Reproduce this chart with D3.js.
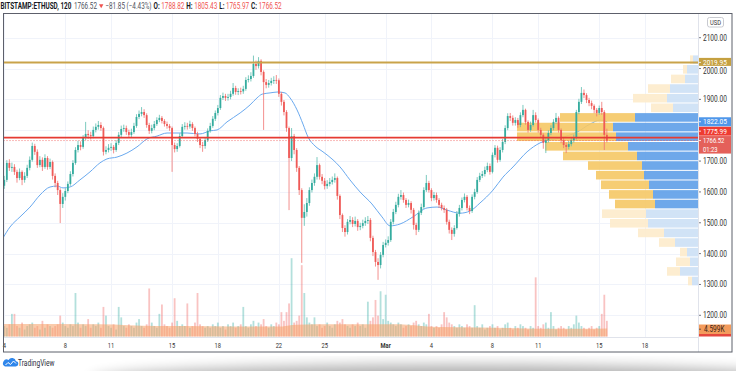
<!DOCTYPE html>
<html>
<head>
<meta charset="utf-8">
<script src="https://cdn.jsdelivr.net/npm/d3@7"></script>
<style>
  html, body { margin: 0; background: #fff; overflow: hidden; }
</style>
</head>
<body>
<script>
// ETHUSD, 4h candles (Feb 4 -> Mar 15)
const firstOpen = 1620;
const startDay = 4;        // day-of-February, Mar 1 = 29
const candleDays = 1 / 6;

const closes = [
  1639,1694,1678,1681,1665,1645,1665,1639,1652,1678,
  1704,1749,1730,1687,1704,1681,1710,1681,1697,1652,
  1629,1606,1561,1584,1603,1626,1658,1694,1736,1752,
  1746,1775,1788,1784,1781,1801,1811,1817,1807,1730,
  1736,1743,1746,1736,1759,1785,1804,1807,1794,1785,
  1794,1814,1843,1853,1859,1849,1817,1798,1807,1820,
  1833,1840,1830,1820,1814,1807,1752,1739,1749,1781,
  1811,1814,1812,1820,1807,1788,1772,1752,1749,1768,
  1798,1814,1837,1856,1872,1905,1911,1905,1908,1918,
  1937,1924,1927,1926,1934,1963,1966,1976,2015,2008,
  2025,1989,1956,1947,1953,1960,1963,1962,1918,1892,
  1859,1807,1710,1781,1736,1678,1606,1516,1535,1564,
  1606,1629,1649,1687,1649,1636,1619,1626,1632,1639,
  1645,1587,1525,1483,1470,1503,1509,1496,1506,1486,
  1490,1499,1506,1509,1451,1405,1373,1363,1396,1428,
  1435,1444,1503,1535,1558,1584,1590,1574,1558,1564,
  1542,1493,1477,1532,1551,1606,1629,1606,1580,1590,
  1574,1558,1548,1542,1503,1477,1464,1483,1529,1548,
  1574,1584,1548,1538,1584,1600,1639,1652,1658,1671,
  1684,1665,1720,1743,1704,1736,1762,1807,1846,1840,
  1824,1833,1817,1849,1866,1827,1801,1817,1849,1833,
  1801,1785,1759,1768,1791,1807,1827,1840,1801,1768,
  1752,1746,1755,1768,1775,1859,1892,1921,1914,1898,
  1888,1879,1866,1856,1872,1859,1785,1766.52
];
const highs = [
  1652,1703,1706,1695,1690,1672,1676,1670,1664,1688,
  1715,1760,1756,1738,1716,1712,1722,1716,1708,1702,
  1660,1636,1612,1596,1612,1634,1667,1703,1745,1766,
  1764,1784,1827,1800,1795,1812,1822,1830,1826,1812,
  1748,1755,1758,1752,1768,1794,1815,1818,1815,1802,
  1805,1824,1852,1864,1875,1868,1855,1824,1818,1830,
  1842,1850,1846,1836,1828,1820,1812,1760,1758,1790,
  1820,1826,1824,1831,1826,1812,1795,1778,1762,1776,
  1806,1824,1846,1864,1882,1914,1922,1918,1918,1928,
  1953,1944,1936,1938,1944,1972,1978,1988,2042,2026,
  2037,2030,1994,1966,1963,1970,1975,1979,1968,1924,
  1898,1865,1812,1807,1788,1742,1684,1612,1560,1580,
  1615,1640,1660,1713,1692,1658,1645,1638,1645,1650,
  1660,1650,1592,1530,1492,1512,1522,1518,1520,1512,
  1500,1510,1518,1522,1515,1458,1412,1385,1405,1438,
  1446,1456,1512,1545,1568,1594,1606,1598,1580,1575,
  1570,1548,1500,1540,1562,1615,1655,1636,1612,1600,
  1598,1580,1565,1556,1548,1510,1485,1492,1538,1558,
  1582,1595,1590,1556,1592,1610,1648,1662,1668,1682,
  1695,1692,1728,1752,1750,1745,1772,1816,1855,1856,
  1848,1842,1840,1858,1882,1870,1832,1828,1866,1858,
  1838,1808,1790,1778,1800,1816,1836,1856,1845,1806,
  1775,1760,1765,1778,1786,1866,1902,1940,1932,1920,
  1905,1896,1884,1872,1880,1892,1865,1805
];
const lows = [
  1610,1632,1668,1665,1655,1630,1638,1622,1630,1645,
  1670,1698,1720,1678,1680,1668,1675,1672,1674,1640,
  1615,1590,1499,1548,1572,1596,1620,1650,1688,1728,
  1735,1740,1768,1772,1770,1774,1793,1802,1798,1718,
  1722,1728,1733,1725,1730,1752,1778,1795,1785,1775,
  1778,1788,1808,1836,1845,1840,1808,1788,1790,1800,
  1814,1826,1822,1812,1805,1798,1665,1728,1730,1744,
  1775,1802,1802,1805,1798,1780,1762,1742,1730,1740,
  1762,1792,1808,1830,1848,1866,1898,1895,1896,1900,
  1912,1915,1914,1916,1918,1928,1955,1958,1970,1996,
  2000,1978,1801,1936,1938,1945,1950,1950,1908,1880,
  1848,1795,1541,1700,1722,1665,1590,1370,1490,1520,
  1555,1598,1620,1640,1640,1625,1608,1610,1618,1624,
  1630,1575,1512,1470,1455,1462,1495,1486,1488,1474,
  1476,1482,1490,1496,1440,1392,1358,1315,1352,1388,
  1420,1426,1438,1495,1528,1550,1575,1565,1548,1550,
  1530,1478,1460,1470,1525,1545,1600,1598,1570,1572,
  1565,1548,1540,1532,1494,1465,1444,1455,1478,1520,
  1540,1566,1540,1528,1532,1576,1594,1632,1645,1650,
  1664,1656,1660,1712,1695,1698,1728,1755,1800,1830,
  1815,1815,1808,1810,1842,1818,1792,1795,1812,1825,
  1792,1776,1740,1726,1760,1784,1800,1820,1792,1758,
  1742,1726,1738,1748,1760,1770,1852,1885,1904,1888,
  1878,1868,1855,1845,1850,1850,1736,1760
];
// volume, thousands
const volumes = [
  6,5,7,13,13,6,5,8,4,6,
  7,8,5,6,4,9,5,7,6,5,
  6,7,12,8,6,5,7,6,25,8,
  5,7,6,10,5,7,6,8,5,17,
  12,6,5,7,4,17,11,6,5,7,
  6,5,8,10,6,5,7,27.6,8,6,
  5,13,18.4,7,6,5,8,22,9,6,
  7,6,19,5,6,8,25,7,6,5,
  6,5,7,6,8,5,6,4,7,6,
  8,5,6,7,17,6,5,7,9,6,
  8,7,10,6,5,7,6,8,7,14,
  9,14,19,45,8,9,12,41,25,11,
  8,7,11,6,7,5,6,8,6,5,
  7,9,8,10,7,6,5,7,6,8,
  6,7,5,20,9,11,21,12,26,10,
  24,9,8,7,6,8,7,5,6,7,
  6,8,9,7,6,8,7,13,6,5,
  6,5,7,14,11,8,7,6,5,7,
  6,5,7,6,5,18,6,5,7,4,
  5,6,7,5,6,4,5,7,8,5,
  4,6,5,7,6,5,4,6,5,34,
  6,5,7,8,5,14,6,4,5,6,
  5,4,6,5,7,12,8,6,5,4,
  5,6,4,5,6,13,24,9
];

// moving average of price (blue line)
const maDays = [3.92,4.37,5.03,5.69,6.34,7.0,7.46,7.85,8.31,8.96,9.62,10.27,10.73,11.39,12.04,12.7,13.36,14.01,14.67,15.32,15.98,16.83,17.49,17.95,18.6,19.46,20.11,20.57,20.9,21.42,21.94,22.4,22.73,23.19,23.58,23.91,24.37,24.89,25.55,26.01,26.66,27.32,28.1,28.76,29.29,29.94,30.79,31.71,32.37,33.02,33.87,34.53,35.18,36.04,36.69,37.35,38.27,39.12,40.43,41.55,42.4,43.06,43.52];
const maValues = [1451,1486,1519,1551,1590,1616,1619,1613,1616,1639,1665,1694,1707,1713,1726,1746,1772,1781,1791,1791,1791,1788,1798,1801,1827,1856,1882,1905,1917,1921,1924,1921,1905,1866,1820,1778,1749,1730,1704,1681,1639,1600,1561,1519,1490,1496,1519,1548,1551,1541,1531,1538,1564,1606,1648,1681,1730,1759,1775,1794,1820,1833,1827];

// volume moving average (orange area)
const vmaDays = [3.92,10.3,14.0,17.5,21.9,23.2,25.5,29.9,31.0,32.4,35.2,37.0,39.1,41.5,43.52];
const vmaValues = [7.2,7.0,6.0,5.9,5.7,6.8,7.0,7.0,6.3,5.4,5.2,4.9,4.5,4.4,4.599];

// visible range volume profile, rows bottom -> top
const profLow = 1295.5;
const profStep = 31.2;
const profUp =   [6,18,8,11,23,34,50,52,43,45,49,54,56,61,70,82,85,63,25,31,28,13,11,5];
const profDown = [4,13,14,7,16,26,38,44,40,44,48,48,54,74,83,99,96,75,22,34,22,14,4,3];
const valueArea = [8, 17];

const priceTicks = [1200,1300,1400,1500,1600,1700,1800,1900,2000,2100];
const dayTicks = [4,8,11,15,18,22,25,29,32,36,39,43,46];
const dayLabels = ['4','8','11','15','18','22','25','Mar','4','8','11','15','18'];

const goldLevel = 2019.95;
const redLevel = 1775.99;
const lastPrice = 1766.52;
const vaHigh = 1822.05;
const lastVolMA = '4.599K';

const W = 736, H = 371;
const L = 3.5, R = 698, T = 13.5, B = 337;

const svg = d3.select('body').append('svg')
  .attr('width', W).attr('height', H)
  .style('display', 'block')
  .style('font-family', 'Roboto, "Liberation Sans", sans-serif');

const defs = svg.append('defs');
defs.append('clipPath').attr('id', 'plot')
  .append('rect').attr('x', L).attr('y', T).attr('width', R - L).attr('height', B - T);
defs.append('filter').attr('id', 'blur').attr('x', '-20%').attr('y', '-100%').attr('width', '140%').attr('height', '300%')
  .append('feGaussianBlur').attr('stdDeviation', 7);

const x = d3.scaleLinear().domain([8, 46]).range([65.3, 645]);
const y = d3.scaleLinear().domain([1200, 2100]).range([315.3, 37.7]);
const yVol = d3.scaleLinear().domain([0, 45]).range([336.5, 258.2]);
const profX = d3.scaleLinear().domain([0, d3.max(profUp, (u, i) => u + profDown[i])]).range([0, 181]);

function squish(sel, k) {
  sel.each(function () {
    const w = this.getComputedTextLength();
    d3.select(this).attr('textLength', w * k).attr('lengthAdjust', 'spacingAndGlyphs');
  });
}

// bottom shadow + logo
svg.append('ellipse').attr('cx', 455).attr('cy', 381).attr('rx', 365).attr('ry', 16)
  .attr('fill', '#000').attr('opacity', 0.32).attr('filter', 'url(#blur)');
svg.append('rect').attr('x', 0).attr('y', 0).attr('width', W).attr('height', 356).attr('fill', '#fff');

const logo = svg.append('g').attr('transform', 'translate(3,357)');
logo.append('path')
  .attr('d', 'M2,9.5 h10.5 a2.6,2.6 0 0 0 0.4,-5.2 a4,4 0 0 0 -7.4,-1.4 a2.9,2.9 0 0 0 -3.5,6.6 z')
  .attr('fill', '#2f86eb');
logo.append('path').attr('d', 'M2.5,8 l2.5,-2.5 l2.5,2 l3,-3.5 l2.5,2.5')
  .attr('fill', 'none').attr('stroke', '#fff').attr('stroke-width', 1);
svg.append('g').attr('transform', 'translate(18,365.5) scale(0.78,1)')
  .append('text').attr('font-size', 8.5).attr('fill', '#2a2e39').text('TradingView');

// header, laid out left to right then squeezed horizontally
const header = [
  { t: 'BITSTAMP:ETHUSD, 120', c: '#131722', b: true, gap: 2.5 },
  { t: '1766.52', c: '#50535e', gap: 2 },
  { tri: true, gap: 2 },
  { t: '\u221281.85 (\u22124.43%)', c: '#50535e', gap: 2 },
  { t: 'O:', c: '#131722', b: true, gap: 1.5 },
  { t: '1788.82', c: '#ef5350', gap: 2 },
  { t: 'H:', c: '#131722', b: true, gap: 1.5 },
  { t: '1805.43', c: '#ef5350', gap: 2 },
  { t: 'L:', c: '#131722', b: true, gap: 1.5 },
  { t: '1765.97', c: '#ef5350', gap: 2 },
  { t: 'C:', c: '#131722', b: true, gap: 1.5 },
  { t: '1766.52', c: '#ef5350', gap: 0 }
];
const hk = 0.74;
const hg = svg.append('g').attr('transform', `translate(0.5,9.2) scale(${hk},1)`);
let cursor = 0;
header.forEach(p => {
  if (p.tri) {
    hg.append('path').attr('d', `M${cursor},-4.9 h${4.4 / hk} l${-2.2 / hk},4 z`).attr('fill', '#ef5350');
    cursor += 4.4 / hk + p.gap / hk;
    return;
  }
  const t = hg.append('text').attr('x', cursor).attr('font-size', 8.6)
    .attr('font-weight', p.b ? 700 : 400).attr('fill', p.c).text(p.t);
  cursor += t.node().getComputedTextLength() + p.gap / hk;
});

// grid
const grid = svg.append('g').attr('stroke', '#f0f3fa').attr('stroke-width', 1);
grid.selectAll('.h').data(priceTicks).join('line').attr('class', 'h')
  .attr('x1', L).attr('x2', R).attr('y1', d => Math.round(y(d)) + 0.5).attr('y2', d => Math.round(y(d)) + 0.5);
grid.selectAll('.v').data(dayTicks).join('line').attr('class', 'v')
  .attr('y1', T).attr('y2', B).attr('x1', d => Math.round(x(d)) + 0.5).attr('x2', d => Math.round(x(d)) + 0.5);

const candles = closes.map((c, i) => ({
  day: startDay + i * candleDays,
  open: i ? closes[i - 1] : firstOpen,
  close: c, high: highs[i], low: lows[i], vol: volumes[i]
}));
const up = d => d.close >= d.open;
const bw = 1.8;

const plot = svg.append('g').attr('clip-path', 'url(#plot)');

// volume
plot.append('g').selectAll('rect').data(candles).join('rect')
  .attr('x', d => x(d.day) - bw / 2).attr('width', bw)
  .attr('y', d => yVol(d.vol)).attr('height', d => yVol(0) - yVol(d.vol))
  .attr('fill', d => up(d) ? 'rgba(38,166,154,0.35)' : 'rgba(239,83,80,0.35)');

plot.append('path')
  .datum(vmaDays.map((d, i) => [d, vmaValues[i]]))
  .attr('fill', '#f5a066').attr('opacity', 0.55)
  .attr('d', d3.area().x(d => x(d[0])).y0(yVol(0)).y1(d => yVol(d[1])).curve(d3.curveMonotoneX));

// price MA
plot.append('path')
  .datum(maDays.map((d, i) => [d, maValues[i]]))
  .attr('fill', 'none').attr('stroke', '#6aa9ee').attr('stroke-width', 1)
  .attr('d', d3.line().x(d => x(d[0])).y(d => y(d[1])).curve(d3.curveMonotoneX));

// volume profile
const rows = profUp.map((u, i) => ({ i, up: u, down: profDown[i], lo: profLow + i * profStep }));
const inVA = d => d.i >= valueArea[0] && d.i <= valueArea[1];
const prof = plot.append('g').attr('opacity', 0.9);
prof.selectAll('.pu').data(rows).join('rect').attr('class', 'pu')
  .attr('x', d => R - profX(d.up)).attr('width', d => profX(d.up))
  .attr('y', d => y(d.lo + profStep) + 0.5).attr('height', d => y(d.lo) - y(d.lo + profStep) - 1)
  .attr('fill', d => inVA(d) ? '#5f9fe8' : '#cde0f6');
prof.selectAll('.pd').data(rows).join('rect').attr('class', 'pd')
  .attr('x', d => R - profX(d.up) - profX(d.down)).attr('width', d => profX(d.down))
  .attr('y', d => y(d.lo + profStep) + 0.5).attr('height', d => y(d.lo) - y(d.lo + profStep) - 1)
  .attr('fill', d => inVA(d) ? '#f5c865' : '#fdeccb');

// candles
const cg = plot.append('g');
cg.selectAll('line').data(candles).join('line')
  .attr('x1', d => x(d.day)).attr('x2', d => x(d.day))
  .attr('y1', d => y(d.high)).attr('y2', d => y(d.low))
  .attr('stroke', d => up(d) ? '#5cbcae' : '#f07471').attr('stroke-width', 0.8);
cg.selectAll('rect').data(candles).join('rect')
  .attr('x', d => x(d.day) - bw / 2).attr('width', bw)
  .attr('y', d => y(Math.max(d.open, d.close)))
  .attr('height', d => Math.max(0.8, Math.abs(y(d.open) - y(d.close))))
  .attr('fill', d => up(d) ? '#35ac9f' : '#ef5a57');

// horizontal levels
plot.append('line').attr('x1', L).attr('x2', R).attr('y1', y(goldLevel)).attr('y2', y(goldLevel))
  .attr('stroke', '#c9a34a').attr('stroke-width', 2);
plot.append('line').attr('x1', L).attr('x2', R).attr('y1', y(lastPrice)).attr('y2', y(lastPrice))
  .attr('stroke', '#ef5350').attr('stroke-width', 0.8).attr('stroke-dasharray', '1,2');
plot.append('line').attr('x1', L).attr('x2', R).attr('y1', y(redLevel)).attr('y2', y(redLevel))
  .attr('stroke', '#e53b33').attr('stroke-width', 1.6);

// price labels, stacked upward when they collide
const tags = [
  { v: lastPrice, fill: '#e4605a', h: 17.5, sub: '01:23' },
  { v: redLevel, fill: '#ef3b31', h: 9 },
  { v: vaHigh, fill: '#4f97ea', h: 9 },
  { v: goldLevel, fill: '#c5a040', h: 8 }
];
let prevTop = Infinity;
tags.forEach(t => {
  let top = y(t.v) - 4.5;
  if (top + t.h > prevTop) top = prevTop - t.h - 0.4;
  t.top = top;
  prevTop = top;
});

// price axis: labels hidden behind a tag are dropped, partly covered ones sit just below it
const axisLabels = priceTicks.map(v => {
  let base = y(v) + 2.9;
  const hit = tags.find(t => y(v) >= t.top - 1 && y(v) <= t.top + t.h + 4.5);
  if (hit && y(v) <= hit.top + hit.h) return null;
  if (hit) base = Math.max(base, hit.top + hit.h + 7.8);
  return { v, base };
}).filter(Boolean);

const pAxis = svg.append('g');
pAxis.selectAll('line').data(priceTicks).join('line')
  .attr('x1', R).attr('x2', R + 3).attr('y1', d => y(d)).attr('y2', d => y(d)).attr('stroke', '#787b86');
pAxis.selectAll('text').data(axisLabels).join('text')
  .attr('x', 703).attr('y', d => d.base)
  .attr('font-size', 8.2).attr('fill', '#333').text(d => d.v.toFixed(2))
  .call(squish, 0.8);

// USD tag
svg.append('rect').attr('x', 707.5).attr('y', 17.5).attr('width', 16).attr('height', 9.5).attr('rx', 2)
  .attr('fill', '#fff').attr('stroke', '#c8cad0');
svg.append('text').attr('x', 715.5).attr('y', 24.6).attr('text-anchor', 'middle')
  .attr('font-size', 6.8).attr('fill', '#333').text('USD').call(squish, 0.85);

const tg = svg.append('g').selectAll('g').data(tags).join('g');
tg.append('rect').attr('x', R).attr('y', d => d.top).attr('width', 33).attr('height', d => d.h).attr('fill', d => d.fill);
tg.append('line').attr('x1', R).attr('x2', R + 3).attr('y1', d => d.top + 4.5).attr('y2', d => d.top + 4.5)
  .attr('stroke', '#fff').attr('stroke-width', 0.8);
tg.append('text').attr('x', 703).attr('y', d => d.top + (d.sub ? 6.9 : 7.1))
  .attr('font-size', d => d.sub ? 7.2 : 8)
  .attr('fill', '#fff')
  .text(d => d.v.toFixed(2)).call(squish, 0.82);
tg.filter(d => d.sub).append('text').attr('x', 703).attr('y', d => d.top + 15.6).attr('font-size', 7.2)
  .attr('fill', '#fff').text(d => d.sub).call(squish, 0.82);

// volume MA tag
svg.append('rect').attr('x', R).attr('y', 324.5).attr('width', 33).attr('height', 9.5).attr('fill', '#f39b5c');
svg.append('rect').attr('x', R).attr('y', 334).attr('width', 33).attr('height', 2.5).attr('fill', '#e5483f');
svg.append('line').attr('x1', R).attr('x2', R + 3).attr('y1', 329.2).attr('y2', 329.2).attr('stroke', '#333').attr('stroke-width', 0.7);
svg.append('text').attr('x', 704).attr('y', 332).attr('font-size', 8.2).attr('fill', '#3a2516')
  .text(lastVolMA).call(squish, 0.8);

// time axis
svg.append('g').selectAll('text').data(dayTicks).join('text')
  .attr('x', d => x(d)).attr('y', 347.6).attr('text-anchor', 'middle')
  .attr('font-size', 8).attr('fill', '#333')
  .attr('font-weight', (d, i) => dayLabels[i] === 'Mar' ? 700 : 400)
  .text((d, i) => dayLabels[i])
  .call(squish, 0.72);

// frame
svg.append('line').attr('x1', R + 0.5).attr('x2', R + 0.5).attr('y1', T).attr('y2', 352).attr('stroke', '#e0e3eb');
svg.append('line').attr('x1', L).attr('x2', R).attr('y1', B + 0.5).attr('y2', B + 0.5).attr('stroke', '#e0e3eb');
svg.append('rect').attr('x', L).attr('y', T).attr('width', 732 - L).attr('height', 352 - T)
  .attr('fill', 'none').attr('stroke', '#5d606b').attr('stroke-width', 1);
</script>
</body>
</html>
